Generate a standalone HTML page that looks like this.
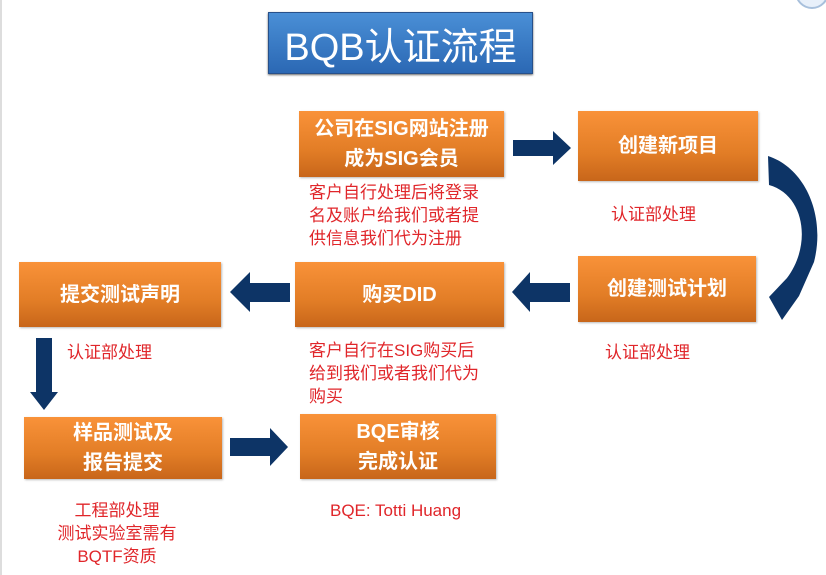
<!DOCTYPE html>
<html><head><meta charset="utf-8"><style>
body{margin:0;width:826px;height:575px;background:#fff;position:relative;overflow:hidden;font-family:"Liberation Sans","Noto Sans CJK SC",sans-serif}
.b{position:absolute;background:linear-gradient(#f99239,#e27d26 60%,#c8661a);color:#fff;font-weight:bold;display:flex;align-items:center;justify-content:center;text-align:center;font-size:20px;line-height:30px;box-shadow:1px 1px 2px #bbb}
.n{position:absolute;color:#e0262a;font-size:17px;line-height:23px;white-space:nowrap}
.t{position:absolute;left:268px;top:12px;width:263px;height:60px;background:linear-gradient(#4a8fd6,#2b68b4);border:1px solid #27508a;color:#fff;font-size:38px;display:flex;align-items:center;justify-content:center;box-shadow:0 1px 2px #666}
</style></head><body>
<div style="position:absolute;left:0;top:0;width:2px;height:575px;background:#ddd"></div>
<div class="t">BQB认证流程</div>
<div class="b" style="left:299px;top:111px;width:205px;height:66px">公司在SIG网站注册<br>成为SIG会员</div>
<div class="b" style="left:578px;top:111px;width:180px;height:70px">创建新项目</div>
<div class="b" style="left:578px;top:256px;width:178px;height:66px">创建测试计划</div>
<div class="b" style="left:295px;top:262px;width:209px;height:65px">购买DID</div>
<div class="b" style="left:19px;top:262px;width:202px;height:65px">提交测试声明</div>
<div class="b" style="left:24px;top:417px;width:198px;height:62px">样品测试及<br>报告提交</div>
<div class="b" style="left:300px;top:414px;width:196px;height:65px">BQE审核<br>完成认证</div>
<div class="n" style="left:309px;top:181px">客户自行处理后将登录<br>名及账户给我们或者提<br>供信息我们代为注册</div>
<div class="n" style="left:611px;top:203px">认证部处理</div>
<div class="n" style="left:605px;top:341px">认证部处理</div>
<div class="n" style="left:67px;top:341px">认证部处理</div>
<div class="n" style="left:309px;top:339px">客户自行在SIG购买后<br>给到我们或者我们代为<br>购买</div>
<div class="n" style="left:32px;top:499px;text-align:center;width:170px">工程部处理<br>测试实验室需有<br>BQTF资质</div>
<div class="n" style="left:330px;top:499px">BQE: Totti Huang</div>
<svg width="826" height="575" style="position:absolute;left:0;top:0">
<g fill="#0d3466">
<polygon points="513,140 553,140 553,131 571,148 553,165 553,156 513,156"/>
<polygon points="290,283 250,283 250,272 230,292 250,312 250,302 290,302"/>
<polygon points="570,283 530,283 530,272 512,292 530,312 530,302 570,302"/>
<polygon points="36,338 52,338 52,392 58,392 44,410 30,392 36,392"/>
<polygon points="230,438 270,438 270,428 288,447 270,466 270,456 230,456"/>
<path d="M768,156 C805,168 826,215 814,262 L799,296 L782,320 L769,297 L787,278 C812,245 805,195 769,185 Z"/>
</g>
<circle cx="812" cy="-8" r="16" fill="#e8f0fa" stroke="#a8c0dc" stroke-width="2"/>
</svg>
</body></html>
